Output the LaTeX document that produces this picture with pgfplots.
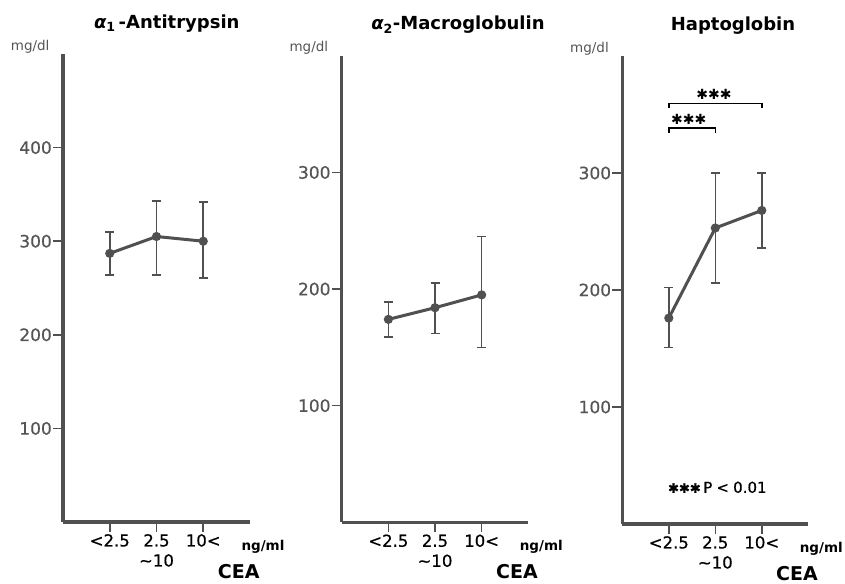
\documentclass[border=0pt]{standalone}
\usepackage{fontspec}
\setmainfont{DejaVu Sans}
\newfontfamily\numfont[FakeBold=0.6]{DejaVu Sans}
\usepackage{pgfplots}
\pgfplotsset{compat=1.18}
\definecolor{axgray}{HTML}{505050}
\definecolor{numgray}{HTML}{555555}

\pgfplotsset{
  panel/.style={
    scale only axis, anchor=south west, clip=false,
    xmin=0, xmax=4, ymin=0,
    axis x line=bottom, axis y line=left,
    axis line style={-, line width=3.4pt, axgray},
    tick align=outside, major tick length=10pt,
    tick style={line width=1.6pt, axgray},
    xtick={1,2,3},
    xticklabels={{<2.5},{2.5\\\textasciitilde10},{10<}},
    xticklabel style={align=center, font=\numfont\fontsize{16.5}{20}\selectfont, inner sep=2pt},
    yticklabel style={font=\numfont\fontsize{17}{17}\selectfont, text=numgray, inner sep=1pt},
    /pgf/number format/assume math mode=true,
  },
  meanline/.style={
    axgray, line width=3pt, mark=*, mark size=3pt,
    error bars/.cd, y dir=both, y explicit,
    error bar style={line width=1.6pt, axgray},
    error mark options={rotate=90, mark size=4.5pt, line width=1.6pt, axgray},
  },
}

% x  mean  plus  minus
\pgfplotstableread{
x y ep em
1 287 23 23
2 305 38 41
3 300 42 39
}\antitrypsin
\pgfplotstableread{
x y ep em
1 174 15 15
2 184 21 22
3 195 50 45
}\macroglobulin
\pgfplotstableread{
x y ep em
1 176 26 25
2 253 47 47
3 268 32 32
}\haptoglobin

\newcommand{\unitlabels}{%
  \node[anchor=base east, font=\fontsize{13.5}{13.5}\selectfont, text=numgray]
    at (rel axis cs:0,1) [xshift=-10pt, yshift=4pt] {mg/dl};
  \node[anchor=base west, font=\bfseries\fontsize{13.5}{13.5}\selectfont]
    at (rel axis cs:1,0) [xshift=-12pt, yshift=-28pt] {ng/ml};
  \node[anchor=base east, font=\bfseries\fontsize{19}{19}\selectfont]
    at (rel axis cs:1,0) [xshift=13pt, yshift=-56pt] {CEA};
}

\begin{document}
\begin{tikzpicture}
\path[use as bounding box] (0pt,-583pt) rectangle (845pt,0pt);

\begin{axis}[panel, at={(63pt,-522pt)}, width=187pt, height=468pt,
  ymax=500, ytick={100,200,300,400}]
  \addplot[meanline] table[x=x, y=y, y error plus=ep, y error minus=em] {\antitrypsin};
  \node[anchor=base, font=\bfseries\fontsize{18}{18}\selectfont]
    at (rel axis cs:0.555,1) [yshift=26pt] {{\itshape α}\textsubscript{1}\,-Antitrypsin};
  \unitlabels
\end{axis}

\begin{axis}[panel, at={(341.7pt,-522.3pt)}, width=186.6pt, height=466.5pt,
  ymax=400, ytick={100,200,300}]
  \addplot[meanline] table[x=x, y=y, y error plus=ep, y error minus=em] {\macroglobulin};
  \node[anchor=base, font=\bfseries\fontsize{18}{18}\selectfont]
    at (rel axis cs:0.623,1) [yshift=26pt] {{\itshape α}\textsubscript{2}-Macroglobulin};
  \unitlabels
\end{axis}

\begin{axis}[panel, at={(622.3pt,-524pt)}, width=186pt, height=468pt,
  ymax=400, ytick={100,200,300}]
  \addplot[meanline] table[x=x, y=y, y error plus=ep, y error minus=em] {\haptoglobin};
  % significance brackets
  \addplot[black, line width=1.5pt] coordinates {(1,355.5) (1,359.3) (3,359.3) (3,355.5)};
  \addplot[black, line width=1.5pt] coordinates {(1,334) (1,338.4) (2,338.4) (2,334)};
  \node[font=\fontsize{14}{14}\selectfont, inner sep=0pt] at (axis cs:1.97,367) {✱✱✱};
  \node[font=\fontsize{14}{14}\selectfont, inner sep=0pt] at (axis cs:1.43,346) {✱✱✱};
  \node[anchor=base west, font=\numfont\fontsize{15}{15}\selectfont, inner sep=0pt]
    at (axis cs:0.98,26.7) {{\fontsize{13}{13}\selectfont ✱✱✱}\,P\;<\;0.01};
  \node[anchor=base, font=\bfseries\fontsize{18}{18}\selectfont]
    at (rel axis cs:0.595,1) [yshift=26pt] {Haptoglobin};
  \unitlabels
\end{axis}
\end{tikzpicture}
\end{document}
